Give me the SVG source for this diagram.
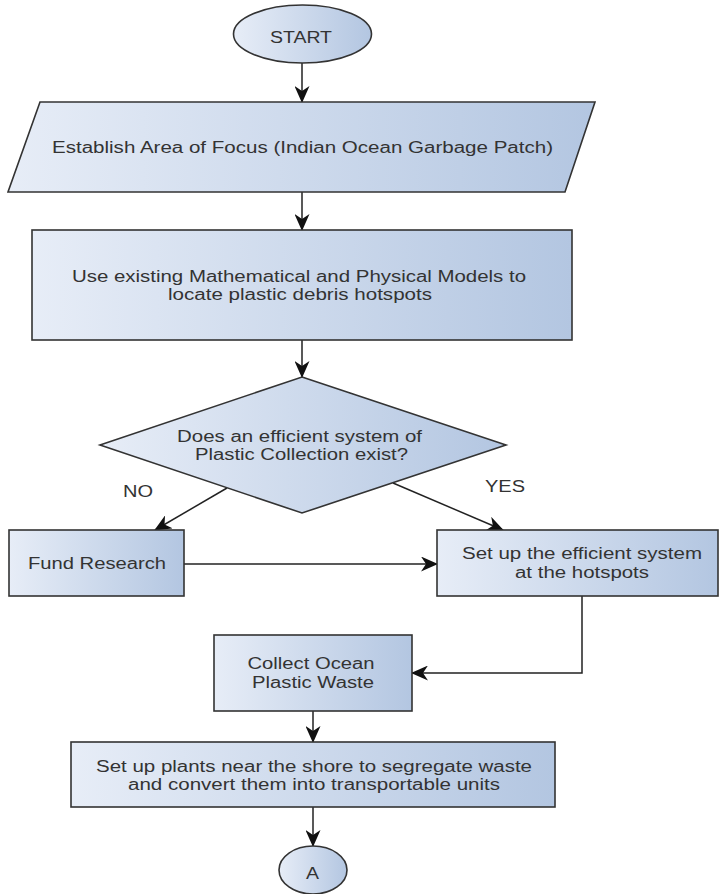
<svg xmlns="http://www.w3.org/2000/svg" width="720" height="894" viewBox="0 0 720 894">
<defs>
<linearGradient id="g" x1="0" y1="0" x2="1" y2="0">
<stop offset="0" stop-color="#e7edf7"/>
<stop offset="1" stop-color="#b3c6e1"/>
</linearGradient>
<marker id="ah" markerUnits="userSpaceOnUse" markerWidth="17" markerHeight="15" viewBox="0 0 17 15" refX="16" refY="7.5" orient="auto">
<path d="M0,0 L17,7.5 L0,15 L5,7.5 Z" fill="#111"/>
</marker>
<style>
.s{fill:url(#g);stroke:#333;stroke-width:1.6}
.t{font-family:"Liberation Sans",Arial,sans-serif;font-size:16px;fill:#333;text-anchor:middle}
.c{fill:none;stroke:#222;stroke-width:1.5;marker-end:url(#ah)}
</style>
</defs>
<rect width="720" height="894" fill="#fff"/>
<g id="connectors">
<path class="c" d="M302,63 L302,102"/>
<path class="c" d="M302,192 L302,230"/>
<path class="c" d="M302,340 L302,377"/>
<path class="c" d="M227,488 L155,530"/>
<path class="c" d="M393,483 L503,530"/>
<path class="c" d="M184,564 L437,564"/>
<path class="c" d="M582,596 L582,673 L412,673"/>
<path class="c" d="M313,711 L313,742"/>
<path class="c" d="M313,807 L313,846"/>
</g>
<g id="start">
<ellipse class="s" cx="302.5" cy="34" rx="69" ry="29"/>
<text class="t" x="301" y="43" textLength="62" lengthAdjust="spacingAndGlyphs">START</text>
</g>
<g id="focus">
<polygon class="s" points="40,102 595,102 565,192 8,192"/>
<text class="t" x="302.5" y="153" textLength="501" lengthAdjust="spacingAndGlyphs">Establish Area of Focus (Indian Ocean Garbage Patch)</text>
</g>
<g id="models">
<rect class="s" x="32" y="230" width="540" height="110"/>
<text class="t" x="299" y="282" textLength="454" lengthAdjust="spacingAndGlyphs">Use existing Mathematical and Physical Models to</text>
<text class="t" x="300" y="300" textLength="264" lengthAdjust="spacingAndGlyphs">locate plastic debris hotspots</text>
</g>
<g id="decision">
<polygon class="s" points="302,377 506,445 302,513 100,445"/>
<text class="t" x="299.5" y="442" textLength="245" lengthAdjust="spacingAndGlyphs">Does an efficient system of</text>
<text class="t" x="301.5" y="460" textLength="213" lengthAdjust="spacingAndGlyphs">Plastic Collection exist?</text>
</g>
<g id="labels">
<text class="t" x="138" y="497" textLength="30" lengthAdjust="spacingAndGlyphs">NO</text>
<text class="t" x="505" y="492" textLength="40" lengthAdjust="spacingAndGlyphs">YES</text>
</g>
<g id="fund">
<rect class="s" x="9" y="530" width="175" height="66"/>
<text class="t" x="97" y="569" textLength="138" lengthAdjust="spacingAndGlyphs">Fund Research</text>
</g>
<g id="setup">
<rect class="s" x="437" y="530" width="281" height="66"/>
<text class="t" x="582" y="559" textLength="240" lengthAdjust="spacingAndGlyphs">Set up the efficient system</text>
<text class="t" x="582" y="578" textLength="134" lengthAdjust="spacingAndGlyphs">at the hotspots</text>
</g>
<g id="collect">
<rect class="s" x="214" y="635" width="198" height="76"/>
<text class="t" x="311" y="669" textLength="127" lengthAdjust="spacingAndGlyphs">Collect Ocean</text>
<text class="t" x="313" y="688" textLength="122" lengthAdjust="spacingAndGlyphs">Plastic Waste</text>
</g>
<g id="plants">
<rect class="s" x="71" y="742" width="484" height="65"/>
<text class="t" x="314" y="772" textLength="436" lengthAdjust="spacingAndGlyphs">Set up plants near the shore to segregate waste</text>
<text class="t" x="314" y="790" textLength="372" lengthAdjust="spacingAndGlyphs">and convert them into transportable units</text>
</g>
<g id="a">
<ellipse class="s" cx="313" cy="870" rx="34" ry="24"/>
<text class="t" x="312.5" y="879" textLength="13" lengthAdjust="spacingAndGlyphs">A</text>
</g>
</svg>
